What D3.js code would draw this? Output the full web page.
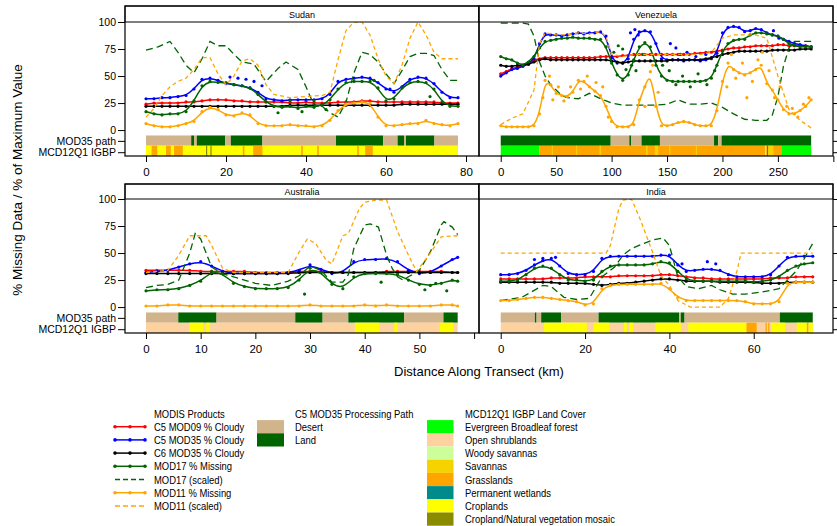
<!DOCTYPE html>
<html>
<head>
<meta charset="utf-8">
<script src="https://cdn.jsdelivr.net/npm/d3@7"></script>
<style>
  body { margin: 0; background: #fff; }
  text { font-family: "Liberation Sans", Arial, sans-serif; fill: #000; }
</style>
</head>
<body>
<svg id="chart" width="837" height="526"></svg>
<script>

// ---- data (% of max / % missing) ----

// Sudan, every 2 km
var sudanKm = d3.range(0, 79, 2);
var sudanMod09 = [24,25,25,25,25,26,26,27,28,28, 28,27,27,26,26,26,26,26,25,25, 26,25,25,25,26,26,26,27,27,26, 26,26,26,26,26,26,26,25,25,25];
var sudanC5Mod35 = [29,29,30,30,31,32,38,47,48,46, 43,42,41,39,35,29,28,27,28,28, 28,28,29,33,45,47,48,49,48,44, 38,35,40,47,49,48,43,35,30,30];
var sudanC6Mod35 = [22,22,22,22,22,22,22,22,22,22, 22,22,22,22,22,22,22,22,23,23, 23,23,23,23,23,23,23,23,23,23, 23,23,24,24,24,24,24,24,24,24];
var sudanMod17 = [17,15,14,15,15,17,27,41,45,44, 44,42,41,39,33,26,22,21,22,20, 22,21,23,28,38,44,45,45,45,39, 27,29,39,44,45,44,38,26,22,22];
var sudanMod11 = [6,4,3,3,4,6,8,17,21,19, 14,13,16,14,6,4,4,4,5,4, 4,3,4,9,18,24,25,26,25,12, 4,4,5,6,6,9,6,5,4,6];
var sudanMod17Scaled = [[0,74],[3,77],[6,82],[8,72],[10,60],[12,53],[14,66],[16,82],[18,78],[20,78],[22,70],[24,63],[27,61],[30,45],[33,57],[35,63],[38,56],[40,40],[42,23],[44,22],[46,16],[48,12],[50,26],[52,53],[54,72],[56,70],[58,63],[60,52],[62,43],[64,55],[66,68],[68,71],[70,71],[72,69],[74,56],[76,46],[78,46]];
var sudanMod11Scaled = [[0,12],[2,20],[4,32],[6,40],[8,45],[10,48],[12,56],[14,67],[16,67],[18,52],[20,42],[22,50],[24,64],[26,66],[28,60],[30,42],[32,33],[36,30],[40,31],[44,32],[46,35],[48,65],[50,92],[52,100],[54,100],[56,88],[58,66],[60,50],[62,43],[64,60],[66,85],[68,100],[70,88],[72,72],[74,66],[78,66]];
var sudanC5Scatter = [[21,49],[23,48],[25,47],[27,45],[29,41],[61,38]];
var sudanMod17Scatter = [[33,16],[36,27],[39,17],[42,27],[45,19],[57,46],[71,31]];
var sudanPath = [[0,11.3,"desert"],[11.3,12,"land"],[12,12.7,"desert"],[12.7,19.8,"land"],[19.8,21.2,"desert"],[21.2,29.1,"land"],[29.1,47.5,"desert"],[47.5,59.3,"land"],[59.3,62.9,"desert"],[62.9,64.5,"land"],[64.5,65,"desert"],[65,72.1,"land"],[72.1,78,"desert"]];
var sudanIgbp = [[0,78,"crop"],[1.4,2.8,"grass"],[5,6.2,"grass"],[7,9.2,"grass"],[24.2,24.6,"grass"],[26.8,29.1,"grass"],[38.8,39.2,"grass"],[42.8,43.2,"grass"],[52.8,53.2,"grass"],[54.8,56.7,"grass"],[15,15.3,"mosaic"],[16.1,16.4,"mosaic"]];

// Venezuela, every 5 km
var vzKm = d3.range(0, 281, 5);
var vzMod09 = [52,54,57,58,60,62,65,66,67,67, 67,67,67,67,67,67,67,67,68,68, 68,68,69,69,70,70,70,70,70,70, 70,70,70,70,70,71,71,72,72,73, 74,75,76,76,77,77,78,78,78,78, 79,79,78,78,78,78,77];
var vzC5Mod35 = [50,53,56,57,59,61,66,80,89,88, 88,87,88,89,90,89,90,90,91,87, 67,62,62,66,84,91,92,91,80,66, 65,65,65,64,65,65,64,65,66,71, 90,95,96,95,91,92,94,93,90,88, 87,84,82,80,79,78,77];
var vzC6Mod35 = [60,59,59,60,60,61,63,65,66,65, 65,65,65,65,65,65,65,65,65,65, 64,63,62,63,64,64,64,64,64,64, 64,65,65,65,65,65,65,66,67,68, 70,71,72,73,73,73,73,73,73,74, 74,74,74,74,75,75,75];
var vzMod17 = [68,66,65,62,60,63,68,76,82,83, 84,85,85,86,85,85,85,84,84,77, 62,51,46,51,65,77,81,77,60,50, 46,45,45,45,45,45,45,46,48,60, 73,80,83,84,84,88,90,90,89,88, 87,84,80,78,77,77,77];
var vzMod11 = [4,3,3,3,3,3,4,15,46,42, 34,32,31,35,46,45,40,36,32,22, 8,3,3,3,5,28,40,54,22,4, 4,5,7,8,7,5,4,4,4,18, 45,62,56,53,51,53,56,60,43,37, 28,19,15,15,18,22,28];
var vzMod17Scaled = [[0,99],[10,99],[20,99],[25,98],[30,87],[35,63],[40,50],[45,42],[50,37],[55,32],[60,30],[70,29],[80,34],[90,29],[100,25],[110,23],[120,23],[130,23],[140,23],[150,24],[160,28],[170,24],[180,24],[190,25],[200,21],[210,15],[220,10],[230,9],[240,9],[245,14],[250,31],[255,59],[260,76],[265,82],[270,82],[280,82]];
var vzMod11Scaled = [[0,5],[10,11],[20,15],[30,37],[35,80],[40,90],[50,88],[60,88],[70,90],[80,89],[90,91],[95,86],[100,70],[110,68],[120,70],[130,70],[140,70],[150,70],[160,70],[170,70],[180,70],[190,72],[200,85],[210,88],[220,88],[230,88],[240,85],[250,50],[260,19],[270,9],[280,2]];
var vzC5Scatter = [[117,90],[121,93],[124,88],[153,80],[158,76],[162,70],[168,72],[176,68],[185,70],[246,92],[251,85]];
var vzMod17Scatter = [[102,72],[106,78],[110,75],[113,56],[118,60],[122,55],[128,70],[146,60],[152,55],[158,42],[164,50],[171,40],[178,52],[186,42],[193,55]];
var vzMod11Scatter = [[38,30],[44,50],[47,28],[52,40],[57,27],[63,40],[72,38],[78,50],[86,44],[92,40],[97,12],[130,22],[137,60],[142,35],[204,40],[208,70],[212,48],[218,62],[222,30],[227,45],[232,65],[236,72],[242,55],[247,30],[252,40],[258,22],[263,20],[268,12],[273,24],[278,30]];
var vzPath = [[0,99.2,"land"],[99.2,116,"desert"],[116,117.8,"land"],[117.8,127,"desert"],[127,143.6,"land"],[143.6,192.4,"desert"],[192.4,196.2,"land"],[196.2,199.2,"desert"],[199.2,280,"land"]];
var vzIgbp = [[0,35,"ebf"],[35,253,"grass"],[46,47,"sav"],[68,69,"sav"],[89,90.5,"sav"],[131,132.5,"sav"],[139,142,"sav"],[152,153,"sav"],[176,177,"sav"],[238.5,239.5,"woody"],[240.3,241.2,"wet"],[241.2,246,"sav"],[253,280,"ebf"]];

// Australia, every 2 km
var auKm = d3.range(0, 57, 2).concat([57]);
var auMod09 = [34,34,34,34,34,33,33,33,33,33, 32,32,32,32,33,33,33,32,32,32, 32,32,33,33,33,33,33,33,32,32];
var auC5Mod35 = [32,33,34,37,40,42,38,33,31,31, 31,31,31,32,34,39,35,31,32,42, 44,44,45,42,34,31,32,38,44,46];
var auC6Mod35 = [31,31,31,31,31,31,31,31,31,31, 31,31,31,31,32,32,32,32,32,32, 32,32,32,32,32,32,32,32,32,32];
var auMod17 = [15,16,16,17,20,24,33,31,22,19, 17,17,17,18,25,36,32,21,17,28, 31,31,31,30,25,21,20,22,25,24];
var auMod11 = [1,1,2,2,1,1,1,1,1,1, 1,1,1,1,1,2,1,1,1,1, 2,1,2,1,1,1,1,2,2,1];
var auMod17Scaled = [[0,18],[2,20],[4,21],[6,25],[8,50],[9,68],[10,63],[12,37],[14,31],[16,28],[18,25],[20,22],[23,20],[26,24],[28,29],[30,38],[32,34],[34,23],[36,23],[37,30],[38,54],[40,76],[41,77],[42.5,74],[44,48],[45,36],[46,28],[47,25],[48,28],[50,34],[52,51],[54,76],[54.5,79],[56,74],[57,67]];
var auMod11Scaled = [[0,32],[4,34],[6,48],[8,66],[11,66],[12,57],[14,36],[16,32],[26,32],[28,51],[29.5,63],[31,59],[33,43],[34,40],[36,66],[37,68],[39,91],[40,97],[42,99],[44,99],[46,70],[48,48],[49.5,33],[52,50],[54,65],[57,66]];
var auMod17Scatter = [[29,12],[43,23],[51,16],[53,22],[55,15]];
var auPath = [[0,5.9,"desert"],[5.9,12.9,"land"],[12.9,27.3,"desert"],[27.3,32.3,"land"],[32.3,37,"desert"],[37,47.2,"land"],[47.2,54.4,"desert"],[54.4,57,"land"]];
var auIgbp = [[0,57,"shrub"],[7.9,10.5,"crop"],[11,11.7,"crop"],[38.2,42.7,"crop"],[45.4,46,"crop"],[53.7,56.2,"crop"]];

// India, every 2 km
var inKm = d3.range(0, 75, 2);
var inMod09 = [26,26,26,26,26,26,27,27,27,27, 28,28,28,28,29,29,29,29,29,30, 30,29,28,27,27,26,26,26,26,26, 26,26,27,27,27,28,28,28];
var inC5Mod35 = [30,30,31,34,39,43,45,38,31,30, 30,33,45,47,47,47,47,47,47,48, 48,39,33,34,35,35,34,30,28,28, 28,28,30,38,46,47,47,47];
var inC6Mod35 = [23,23,23,23,23,23,23,22,22,22, 22,21,20,21,22,22,23,24,25,26, 26,25,24,24,24,24,23,23,23,23, 23,22,22,22,23,23,23,23];
var inMod17 = [24,24,25,30,36,38,36,30,25,25, 24,25,33,38,39,39,39,39,40,42, 41,33,26,24,24,24,24,24,24,24, 23,24,25,28,34,38,40,41];
var inMod11 = [6,6,7,8,9,9,8,7,6,5, 2,3,17,20,21,21,21,21,21,22, 17,9,6,6,6,6,6,6,6,5, 3,3,3,5,22,23,23,23];
var inMod17Scaled = [[0,6],[5,9],[10,20],[12,19],[15,9],[18,7],[21,8],[24,28],[27,37],[29,48],[31,54],[34,59],[36,62],[38.5,64],[40,57],[42,28],[44,19],[47,17],[50,20],[52,16],[55,12],[58,12],[62,14],[66,17],[70,33],[72,45],[74,59]];
var inMod11Scaled = [[0,50],[25,50],[26,57],[28,91],[29,99],[31,100],[33,82],[36,51],[38,29],[40,20],[42,6],[45,0],[52,0],[54,8],[56,33],[57,50],[74,50]];
var inC5Scatter = [[8,44],[10,45],[13,46],[43,40],[49,42],[51,40]];
var inPath = [[0,8.1,"desert"],[8.1,8.5,"land"],[8.5,9.6,"desert"],[9.6,14.3,"land"],[14.3,23.2,"desert"],[23.2,42.3,"land"],[42.3,42.7,"desert"],[42.7,43.6,"land"],[43.6,66.2,"desert"],[66.2,74,"land"]];
var inIgbp = [[0,74,"shrub"],[10.3,20.4,"crop"],[22,25.8,"crop"],[29.2,29.9,"crop"],[30.5,31.4,"crop"],[36.7,42.7,"crop"],[44.5,58.3,"crop"],[58.3,60.7,"grass"],[62.8,63.1,"grass"],[63.4,63.7,"grass"],[64.1,67.4,"crop"],[70.2,72.6,"crop"],[72.6,73,"grass"],[73,74,"crop"]];

// legend / class labels
var productNames = ["C5 MOD09 % Cloudy","C5 MOD35 % Cloudy","C6 MOD35 % Cloudy","MOD17 % Missing","MOD17 (scaled)","MOD11 % Missing","MOD11 (scaled)"];
var productColors = ["#ff0000","#0000ff","#000000","#006400","#006400","#ffa500","#ffa500"];
var pathClasses = ["desert","land"];
var pathNames = ["Desert","Land"];
var igbpClasses = ["ebf","shrub","woody","sav","grass","wet","crop","mosaic"];
var igbpNames = ["Evergreen Broadleaf forest","Open shrublands","Woody savannas","Savannas","Grasslands","Permanent wetlands","Croplands","Cropland/Natural vegetation mosaic"];
var yTicks = [100,75,50,25,0];

var fills = {desert:"#d2b48c", land:"#006400", ebf:"#00ff00", shrub:"#fdd29f", woody:"#ccff99",
  sav:"#f5d200", grass:"#ffa500", wet:"#008b8b", crop:"#ffff00", mosaic:"#8b8b00"};

var svg = d3.select("#chart");

// scatter entries: [index into productColors, points]
var panels = [
  {name:"Sudan", col:0, row:0, xlim:[-5.25,83.25], ticks:[0,20,40,60,80], bare:[],
   km:sudanKm, s:[sudanMod09,sudanC5Mod35,sudanC6Mod35,sudanMod17,sudanMod11],
   sc17:sudanMod17Scaled, sc11:sudanMod11Scaled, path:sudanPath, igbp:sudanIgbp,
   extra:[[1,sudanC5Scatter],[3,sudanMod17Scatter]]},
  {name:"Venezuela", col:1, row:0, xlim:[-19.6,299.7], ticks:[0,50,100,150,200,250], bare:[300],
   km:vzKm, s:[vzMod09,vzC5Mod35,vzC6Mod35,vzMod17,vzMod11],
   sc17:vzMod17Scaled, sc11:vzMod11Scaled, path:vzPath, igbp:vzIgbp,
   extra:[[1,vzC5Scatter],[3,vzMod17Scatter],[5,vzMod11Scatter]]},
  {name:"Australia", col:0, row:1, xlim:[-3.84,60.9], ticks:[0,10,20,30,40,50], bare:[60],
   km:auKm, s:[auMod09,auC5Mod35,auC6Mod35,auMod17,auMod11],
   sc17:auMod17Scaled, sc11:auMod11Scaled, path:auPath, igbp:auIgbp,
   extra:[[3,auMod17Scatter]]},
  {name:"India", col:1, row:1, xlim:[-5.15,78.8], ticks:[0,20,40,60], bare:[],
   km:inKm, s:[inMod09,inC5Mod35,inC6Mod35,inMod17,inMod11],
   sc17:inMod17Scaled, sc11:inMod11Scaled, path:inPath, igbp:inIgbp,
   extra:[[1,inC5Scatter]]}
];

var colX = [125, 479, 833];
var rowY = [{strip:6, top:22, bottom:156}, {strip:184, top:199, bottom:333}];

panels.forEach(function(p, pi) {
  var left = colX[p.col], right = colX[p.col + 1], ry = rowY[p.row];
  var x = d3.scaleLinear().domain(p.xlim).range([left, right]);
  var y = d3.scaleLinear().domain([-24, 100]).range([ry.bottom, ry.top]);
  var g = svg.append("g");

  var cid = "clip" + pi;
  svg.append("clipPath").attr("id", cid).append("rect")
    .attr("x", left).attr("y", ry.top).attr("width", right - left).attr("height", ry.bottom - ry.top);

  // bands
  g.selectAll("rect.path").data(p.path).join("rect").attr("class", "path")
    .attr("x", d => x(d[0])).attr("width", d => x(d[1]) - x(d[0]))
    .attr("y", y(-5)).attr("height", y(-14.5) - y(-5))
    .attr("fill", d => fills[d[2]]);
  g.selectAll("rect.igbp").data(p.igbp).join("rect").attr("class", "igbp")
    .attr("x", d => x(d[0])).attr("width", d => x(d[1]) - x(d[0]))
    .attr("y", y(-14.5)).attr("height", y(-24) - y(-14.5))
    .attr("fill", d => fills[d[2]]);

  var plot = g.append("g").attr("clip-path", "url(#" + cid + ")");
  var smooth = d3.line().x((d, i) => x(p.km[i])).y(d => y(d)).curve(d3.curveBasis);
  var poly = d3.line().x(d => x(d[0])).y(d => y(d[1]));

  function scatter(ci) {
    p.extra.filter(e => e[0] === ci).forEach(function(e) {
      plot.append("g").selectAll("circle").data(e[1]).join("circle")
        .attr("cx", d => x(d[0])).attr("cy", d => y(d[1])).attr("r", 1.6).attr("fill", productColors[ci]);
    });
  }
  function series(vals, ci) {
    var col = productColors[ci];
    plot.append("path").attr("d", smooth(vals)).attr("fill", "none")
      .attr("stroke", col).attr("stroke-width", 1.5);
    plot.append("g").selectAll("circle").data(vals).join("circle")
      .attr("cx", (d, i) => x(p.km[i])).attr("cy", d => y(d)).attr("r", 1.6).attr("fill", col);
    scatter(ci);
  }
  function dashed(vals, col, dash) {
    plot.append("path").attr("d", poly(vals)).attr("fill", "none")
      .attr("stroke", col).attr("stroke-width", 1.3).attr("stroke-dasharray", dash);
  }

  series(p.s[0], 0);
  series(p.s[1], 1);
  series(p.s[2], 2);
  series(p.s[3], 3);
  dashed(p.sc17, productColors[4], "7,4");
  series(p.s[4], 5);
  dashed(p.sc11, productColors[6], "4,3");

  // strip
  g.append("rect").attr("x", left).attr("y", ry.strip).attr("width", right - left)
    .attr("height", ry.top - ry.strip).attr("fill", "#fff").attr("stroke", "#000");
  g.append("text").attr("x", (left + right) / 2).attr("y", ry.top - 4.5)
    .attr("text-anchor", "middle").style("font-size", "9px").text(p.name);

  // frame
  g.append("rect").attr("x", left).attr("y", ry.strip).attr("width", right - left)
    .attr("height", ry.bottom - ry.strip).attr("fill", "none").attr("stroke", "#000").attr("stroke-width", 1.2);

  // x axis
  var xa = g.append("g").attr("transform", "translate(0," + ry.bottom + ")")
    .call(d3.axisBottom(x).tickValues(p.ticks.concat(p.bare)).tickSize(6).tickPadding(6)
      .tickFormat(d => p.bare.indexOf(d) >= 0 ? "" : d));
  xa.select(".domain").remove();
  xa.selectAll("text").style("font-size", "11.5px").attr("fill", "#000");

  // y axis
  var yv = yTicks.concat([-10, -20.5]);
  if (p.col === 0) {
    var ya = g.append("g").attr("transform", "translate(" + left + ",0)")
      .call(d3.axisLeft(y).tickValues(yv).tickSize(7).tickPadding(2)
        .tickFormat(d => d === -10 ? "MOD35 path" : d === -20.5 ? "MCD12Q1 IGBP" : d));
    ya.select(".domain").remove();
    ya.selectAll("text").style("font-size", "10.5px").attr("fill", "#000");
  } else {
    var yb = g.append("g").attr("transform", "translate(" + right + ",0)")
      .call(d3.axisRight(y).tickValues(yv).tickSize(6).tickFormat(""));
    yb.select(".domain").remove();
  }
});

// axis titles
svg.append("text").attr("transform", "translate(22,180) rotate(-90)")
  .attr("text-anchor", "middle").style("font-size", "13.5px")
  .text("% Missing Data / % of Maximum Value");
svg.append("text").attr("x", 479).attr("y", 376).attr("text-anchor", "middle")
  .style("font-size", "13px").text("Distance Along Transect (km)");

// legend (condensed text, as in the original device font)
var rowH = 13.2, row0 = 413.5;
var lg = svg.append("g").attr("class", "legend");

function legendText(tx, ty, str) {
  lg.append("text").attr("transform", "translate(" + tx + "," + ty + ") scale(0.8,1)")
    .style("font-size", "11.8px").text(str);
}

legendText(154, row0 + 4, "MODIS Products");
productNames.forEach(function(name, i) {
  var cy = row0 + (i + 1) * rowH;
  var dashedItem = name.indexOf("scaled") >= 0;
  lg.append("line").attr("x1", 115).attr("x2", 145).attr("y1", cy).attr("y2", cy)
    .attr("stroke", productColors[i]).attr("stroke-width", 1.5)
    .attr("stroke-dasharray", dashedItem ? "5,3" : null);
  if (!dashedItem) {
    lg.selectAll(null).data([115, 130, 145]).join("circle")
      .attr("cx", d => d).attr("cy", cy).attr("r", 1.8).attr("fill", productColors[i]);
  }
  legendText(154, cy + 4, name);
});

legendText(295, row0 + 4, "C5 MOD35 Processing Path");
pathClasses.forEach(function(c, i) {
  var cy = row0 + (i + 1) * rowH;
  lg.append("rect").attr("x", 257).attr("y", cy - rowH / 2).attr("width", 27).attr("height", rowH)
    .attr("fill", fills[c]);
  legendText(295, cy + 4, pathNames[i]);
});

legendText(465, row0 + 4, "MCD12Q1 IGBP Land Cover");
igbpClasses.forEach(function(c, i) {
  var cy = row0 + (i + 1) * rowH;
  lg.append("rect").attr("x", 427).attr("y", cy - rowH / 2).attr("width", 26.5).attr("height", rowH)
    .attr("fill", fills[c]);
  legendText(465, cy + 4, igbpNames[i]);
});

</script>
</body>
</html>
